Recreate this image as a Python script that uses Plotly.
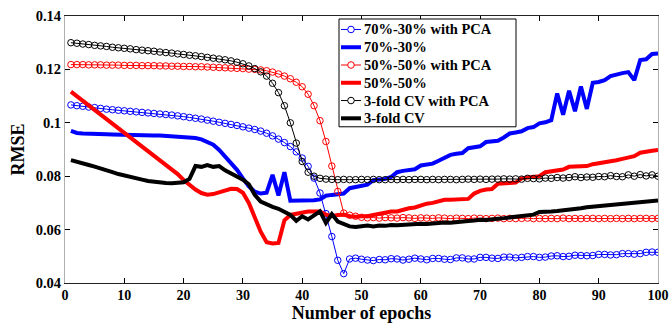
import plotly.graph_objects as go

epochs = list(range(1, 101))

blue_pca = [
    0.1067, 0.1064, 0.1062, 0.1059, 0.1057, 0.1054, 0.1051, 0.1049, 0.1047, 0.1045,
    0.1043, 0.1041, 0.1039, 0.1037, 0.1035, 0.1033, 0.1031, 0.1029, 0.1026, 0.1023,
    0.1020, 0.1017, 0.1014, 0.1010, 0.1006, 0.1002, 0.0998, 0.0994, 0.0990, 0.0985,
    0.0980, 0.0975, 0.0969, 0.0961, 0.0951, 0.0939, 0.0926, 0.0911, 0.0891, 0.0868,
    0.0837, 0.0793, 0.0737, 0.0660, 0.0574, 0.0485, 0.0435, 0.0490, 0.0493, 0.0489,
    0.0486, 0.0484, 0.0488, 0.0487, 0.0491, 0.0490, 0.0486, 0.0489, 0.0493, 0.0490,
    0.0487, 0.0492, 0.0492, 0.0489, 0.0488, 0.0494, 0.0494, 0.0490, 0.0490, 0.0496,
    0.0496, 0.0493, 0.0492, 0.0497, 0.0497, 0.0494, 0.0496, 0.0499, 0.0499, 0.0496,
    0.0497, 0.0501, 0.0502, 0.0499, 0.0500, 0.0504, 0.0503, 0.0502, 0.0503, 0.0507,
    0.0507, 0.0505, 0.0506, 0.0510, 0.0510, 0.0508, 0.0510, 0.0515, 0.0516, 0.0515,
]

blue = [
    0.0970, 0.0962, 0.0960, 0.0960, 0.0960, 0.0958, 0.0957, 0.0956, 0.0955, 0.0955,
    0.0954, 0.0954, 0.0953, 0.0953, 0.0952, 0.0952, 0.0951, 0.0950, 0.0949, 0.0948,
    0.0946, 0.0943, 0.0938, 0.0930, 0.0918, 0.0898, 0.0875, 0.0850, 0.0824, 0.0792,
    0.0762, 0.0742, 0.0735, 0.0738, 0.0805, 0.0728, 0.0815, 0.0708, 0.0708, 0.0709,
    0.0709, 0.0710, 0.0713, 0.0727, 0.0730, 0.0731, 0.0735, 0.0755, 0.0760, 0.0765,
    0.0768, 0.0785, 0.0788, 0.0790, 0.0797, 0.0815, 0.0820, 0.0823, 0.0826, 0.0840,
    0.0843, 0.0847, 0.0858, 0.0870, 0.0880, 0.0884, 0.0887, 0.0905, 0.0910, 0.0912,
    0.0928, 0.0930, 0.0933, 0.0945, 0.0960, 0.0964, 0.0968, 0.0980, 0.0984, 0.0998,
    0.1002, 0.1010, 0.1110, 0.1030, 0.1120, 0.1043, 0.1136, 0.1052, 0.1150, 0.1153,
    0.1160, 0.1175, 0.1182, 0.1186, 0.1190, 0.1160, 0.1235, 0.1238, 0.1258, 0.1260,
]

red_pca = [
    0.1218, 0.1218, 0.1218, 0.1217, 0.1217, 0.1217, 0.1216, 0.1216, 0.1216, 0.1215,
    0.1215, 0.1215, 0.1214, 0.1214, 0.1214, 0.1213, 0.1213, 0.1212, 0.1212, 0.1211,
    0.1211, 0.1210, 0.1210, 0.1209, 0.1208, 0.1207, 0.1206, 0.1205, 0.1204, 0.1203,
    0.1201, 0.1200, 0.1198, 0.1195, 0.1190, 0.1183, 0.1175, 0.1165, 0.1152, 0.1135,
    0.1107, 0.1064, 0.1008, 0.0930, 0.0838, 0.0743, 0.0662, 0.0654, 0.0650, 0.0646,
    0.0644, 0.0645, 0.0643, 0.0645, 0.0644, 0.0643, 0.0645, 0.0644, 0.0642, 0.0644,
    0.0643, 0.0642, 0.0644, 0.0643, 0.0641, 0.0643, 0.0642, 0.0641, 0.0643, 0.0642,
    0.0641, 0.0642, 0.0643, 0.0641, 0.0642, 0.0641, 0.0642, 0.0643, 0.0641, 0.0642,
    0.0641, 0.0642, 0.0641, 0.0643, 0.0641, 0.0642, 0.0641, 0.0642, 0.0642, 0.0641,
    0.0642, 0.0641, 0.0642, 0.0641, 0.0642, 0.0641, 0.0642, 0.0642, 0.0641, 0.0642,
]

red = [
    0.1117, 0.1100, 0.1083, 0.1067, 0.1050, 0.1033, 0.1016, 0.0999, 0.0982, 0.0965,
    0.0948, 0.0931, 0.0914, 0.0897, 0.0880, 0.0863, 0.0846, 0.0828, 0.0808, 0.0786,
    0.0766, 0.0750, 0.0737, 0.0731, 0.0733, 0.0739, 0.0746, 0.0753, 0.0752, 0.0738,
    0.0700, 0.0645, 0.0592, 0.0553, 0.0548, 0.0550, 0.0635, 0.0655, 0.0660, 0.0665,
    0.0668, 0.0668, 0.0668, 0.0656, 0.0650, 0.0655, 0.0656, 0.0650, 0.0648, 0.0650,
    0.0650, 0.0655, 0.0660, 0.0665, 0.0668, 0.0668, 0.0675, 0.0680, 0.0683, 0.0690,
    0.0697, 0.0700, 0.0705, 0.0712, 0.0712, 0.0712, 0.0713, 0.0715, 0.0735, 0.0745,
    0.0750, 0.0752, 0.0772, 0.0775, 0.0775, 0.0776, 0.0792, 0.0795, 0.0798, 0.0800,
    0.0815, 0.0818, 0.0820, 0.0825, 0.0835, 0.0837, 0.0837, 0.0838, 0.0845, 0.0848,
    0.0852, 0.0855, 0.0860, 0.0865, 0.0870, 0.0875, 0.0888, 0.0893, 0.0895, 0.0898,
]

black_pca = [
    0.1300, 0.1298, 0.1295, 0.1293, 0.1290, 0.1288, 0.1286, 0.1283, 0.1281, 0.1279,
    0.1277, 0.1274, 0.1272, 0.1270, 0.1268, 0.1265, 0.1263, 0.1261, 0.1258, 0.1256,
    0.1253, 0.1251, 0.1248, 0.1245, 0.1242, 0.1239, 0.1236, 0.1232, 0.1227, 0.1221,
    0.1213, 0.1203, 0.1191, 0.1175, 0.1148, 0.1113, 0.1064, 0.1000, 0.0924, 0.0855,
    0.0815, 0.0800, 0.0792, 0.0789, 0.0788, 0.0787, 0.0788, 0.0787, 0.0787, 0.0788,
    0.0787, 0.0788, 0.0787, 0.0787, 0.0788, 0.0787, 0.0788, 0.0787, 0.0788, 0.0788,
    0.0787, 0.0788, 0.0787, 0.0788, 0.0788, 0.0787, 0.0788, 0.0789, 0.0788, 0.0789,
    0.0788, 0.0789, 0.0789, 0.0790, 0.0789, 0.0790, 0.0789, 0.0792, 0.0791, 0.0790,
    0.0793, 0.0792, 0.0795, 0.0793, 0.0795, 0.0798, 0.0795, 0.0797, 0.0796, 0.0799,
    0.0798, 0.0802, 0.0799, 0.0798, 0.0805, 0.0800, 0.0806, 0.0801, 0.0805, 0.0800,
]

black = [
    0.0860, 0.0855, 0.0848, 0.0842, 0.0836, 0.0830, 0.0822, 0.0815, 0.0808, 0.0802,
    0.0797, 0.0792, 0.0787, 0.0782, 0.0779, 0.0776, 0.0775, 0.0774, 0.0775, 0.0777,
    0.0790, 0.0838, 0.0835, 0.0842, 0.0835, 0.0838, 0.0822, 0.0810, 0.0795, 0.0787,
    0.0770, 0.0730, 0.0705, 0.0693, 0.0685, 0.0678, 0.0665, 0.0655, 0.0633, 0.0650,
    0.0638, 0.0655, 0.0668, 0.0625, 0.0658, 0.0630, 0.0620, 0.0612, 0.0610, 0.0612,
    0.0615, 0.0612, 0.0615, 0.0614, 0.0617, 0.0616, 0.0618, 0.0619, 0.0620, 0.0622,
    0.0621, 0.0624, 0.0625, 0.0627, 0.0626, 0.0629, 0.0630, 0.0632, 0.0634, 0.0637,
    0.0636, 0.0640, 0.0641, 0.0643, 0.0645, 0.0648, 0.0650, 0.0654, 0.0656, 0.0666,
    0.0666, 0.0668, 0.0670, 0.0672, 0.0675, 0.0677, 0.0680, 0.0684, 0.0686, 0.0689,
    0.0692, 0.0695, 0.0696, 0.0699, 0.0700, 0.0702, 0.0705, 0.0706, 0.0708, 0.0709,
]

names = ["70%-30% with PCA", "70%-30%", "50%-50% with PCA", "50%-50%",
         "3-fold CV with PCA", "3-fold CV"]
series = [blue_pca, blue, red_pca, red, black_pca, black]
colors = ["#0000FF", "#0000FF", "#FF0000", "#FF0000", "#000000", "#000000"]
with_pca = [True, False, True, False, True, False]

y_ticks = [0.04, 0.06, 0.08, 0.10, 0.12, 0.14]
y_ticktext = ["0.04", "0.06", "0.08", "0.1", "0.12", "0.14"]
x_ticks = [0, 10, 20, 30, 40, 50, 60, 70, 80, 90, 100]

FONT = "Liberation Serif"
fig = go.Figure()

for y, name, color, pca in zip(series, names, colors, with_pca):
    if pca:
        fig.add_trace(go.Scatter(
            x=epochs, y=y, name=name, mode="lines+markers",
            line=dict(color=color, width=1),
            marker=dict(symbol="circle-open", size=6.5, color=color,
                        line=dict(width=1, color=color))))
    else:
        fig.add_trace(go.Scatter(
            x=epochs, y=y, name=name, mode="lines",
            line=dict(color=color, width=4)))

# Legend box drawn in paper coordinates (compact MATLAB-style legend)
PLOT_L, PLOT_W, PLOT_B, PLOT_H = 65, 593, 283.5, 267.5
def px(xp):
    return (xp - PLOT_L) / PLOT_W
def py(yp):
    return (PLOT_B - yp) / PLOT_H

shapes = [dict(type="rect", xref="paper", yref="paper",
               x0=px(339), x1=px(516), y0=py(127), y1=py(19),
               line=dict(color="#000", width=1), fillcolor="white", layer="above")]
annotations = []
row_y0, row_dy = 29.5, 17.8
for i, (name, color, pca) in enumerate(zip(names, colors, with_pca)):
    yy = row_y0 + i * row_dy
    shapes.append(dict(type="line", xref="paper", yref="paper",
                       x0=px(341), x1=px(361), y0=py(yy), y1=py(yy),
                       line=dict(color=color, width=1 if pca else 4), layer="above"))
    if pca:
        shapes.append(dict(type="circle", xref="paper", yref="paper",
                           xsizemode="pixel", ysizemode="pixel",
                           xanchor=px(351), yanchor=py(yy),
                           x0=-3.3, x1=3.3, y0=-3.3, y1=3.3,
                           line=dict(color=color, width=1), fillcolor="white",
                           layer="above"))
    annotations.append(dict(text=name, xref="paper", yref="paper",
                            x=px(362), y=py(yy), xanchor="left", yanchor="middle",
                            showarrow=False,
                            font=dict(family=FONT, size=14.5, color="#000",
                                      weight="bold")))

fig.update_layout(
    width=672, height=323,
    margin=dict(l=65, r=14, t=16, b=39.5, autoexpand=False),
    paper_bgcolor="white", plot_bgcolor="white",
    font=dict(family=FONT, size=14, color="#000", weight="bold"),
    showlegend=False,
    shapes=shapes, annotations=annotations,
    xaxis=dict(range=[0, 100], tickvals=x_ticks, ticks="inside", ticklen=5,
               tickcolor="#000", showline=True, linecolor="#222", linewidth=1,
               mirror="ticks", showgrid=False, zeroline=False,
               ticklabelstandoff=-1,
               tickfont=dict(family=FONT, size=14, weight="bold"),
               title=dict(text="Number of epochs", standoff=3,
                          font=dict(family=FONT, size=18, weight="bold"))),
    yaxis=dict(range=[0.04, 0.14], tickvals=y_ticks, ticktext=y_ticktext,
               ticks="inside", ticklen=5, tickcolor="#000", showline=True,
               linecolor="#b0b0b0", linewidth=1, mirror="ticks", showgrid=False,
               zeroline=False,
               tickfont=dict(family=FONT, size=14.5, weight="bold"),
               title=dict(text="RMSE", standoff=6,
                          font=dict(family=FONT, size=18, weight="bold"))),
)

fig.write_html("out.html")
